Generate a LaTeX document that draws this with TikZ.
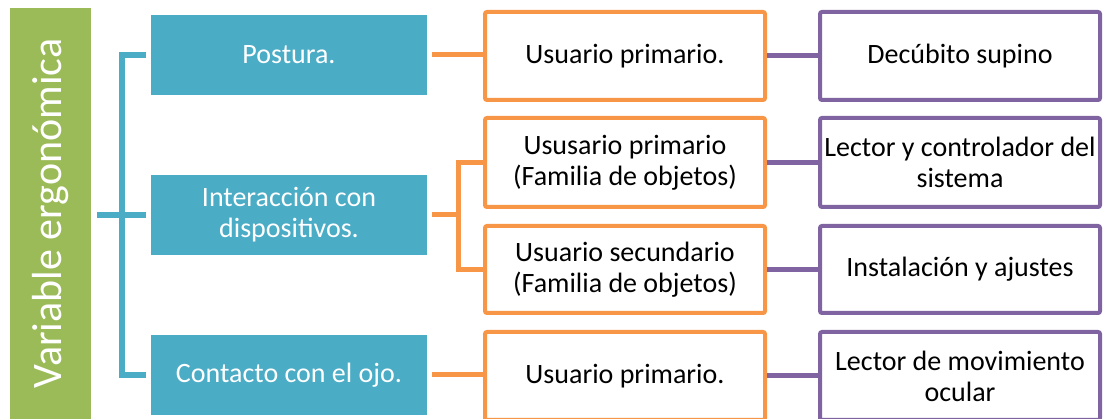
\documentclass[tikz,border=0pt]{standalone}
\usepackage{fontspec}
\setmainfont{Carlito}
\usetikzlibrary{positioning,calc}
\definecolor{vgreen}{HTML}{9BBB59}
\definecolor{tblue}{HTML}{4BACC6}
\definecolor{borange}{HTML}{F79646}
\definecolor{bpurple}{HTML}{8064A2}

\begin{document}
\begin{tikzpicture}[x=1pt, y=-1pt, font=\fontsize{28}{31}\selectfont,
  varbox/.style={fill=vgreen, minimum width=81pt, minimum height=411pt, inner sep=0pt},
  catbox/.style={fill=tblue, text=white, minimum width=276pt, minimum height=80pt, align=center, inner sep=0pt},
  userbox/.style={draw=borange, line width=4pt, fill=white, rounded corners=2pt, minimum width=280pt, align=center, inner sep=0pt},
  rolebox/.style={draw=bpurple, line width=4pt, fill=white, rounded corners=2pt, minimum width=280pt, align=center, inner sep=0pt},
  bline/.style={draw=tblue, line width=6pt},
  oline/.style={draw=borange, line width=5pt},
  pline/.style={draw=bpurple, line width=5pt}]
\useasboundingbox (0,0) rectangle (1104,419);
\node[varbox] (var) at (50.5,213.5) {};
\node[rotate=90, text=white, font=\fontsize{42}{46}\selectfont] (vartxt) at (var.center) {Variable ergonómica};
% categories
\node[catbox] (pos) at (289,55) {Postura.};
\node[catbox] (int) at (289,215) {Interacción con\\dispositivos.};
\node[catbox] (con) at (289,375) {Contacto con el ojo.};
% users
\node[userbox, minimum height=88pt] (u1) at (625,56) {Usuario primario.};
\node[userbox, minimum height=89pt] (u2) at (625,162.5) {Ususario primario\\(Familia de objetos)};
\node[userbox, minimum height=87pt] (u3) at (625,269.5) {Usuario secundario\\(Familia de objetos)};
\node[userbox, minimum height=88pt] (u4) at (625,376) {Usuario primario.};
% roles
\node[rolebox, minimum height=88pt] (d1) at (960,56) {Decúbito supino};
\node[rolebox, minimum height=89pt] (d2) at (960,162.5) {Lector y controlador del\\sistema};
\node[rolebox, minimum height=87pt] (d3) at (960,269.5) {Instalación y ajustes};
\node[rolebox, minimum height=88pt] (d4) at (960,376) {Lector de movimiento\\ocular};
% brackets
\coordinate (bk) at (122,215);
\draw[bline] ([xshift=-5pt]pos.west) -| (bk) |- ([xshift=-5pt]con.west);
\draw[bline] ([xshift=6pt]var.east |- int.west) -- ([xshift=-5pt]int.west);
\coordinate (ok) at (458,215);
\draw[oline] ([xshift=5pt]pos.east) -- (pos.east -| u1.west);
\draw[oline] ([xshift=5pt]int.east) -- (ok);
\draw[oline] (u2.west) -| (ok) |- (u3.west);
\draw[oline] ([xshift=5pt]con.east) -- (con.east -| u4.west);
\foreach \i in {1,...,4}
  \draw[pline] (u\i.east) -- (d\i.west);
\end{tikzpicture}
\end{document}
